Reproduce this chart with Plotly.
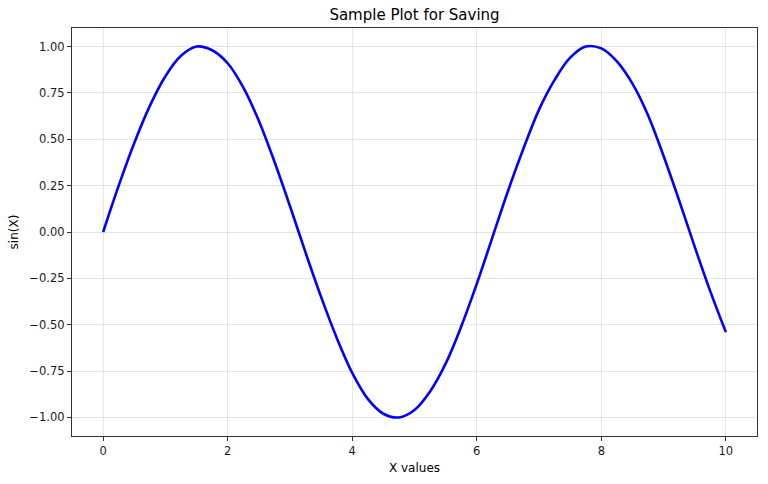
import plotly.graph_objects as go

x_values = [i * 0.25 for i in range(41)]
sin_values = [0.00, 0.25, 0.48, 0.68, 0.84, 0.95, 1.00, 0.98, 0.91, 0.78,
              0.60, 0.38, 0.14, -0.11, -0.35, -0.57, -0.76, -0.90, -0.98, -1.00,
              -0.96, -0.86, -0.71, -0.51, -0.28, -0.03, 0.22, 0.45, 0.66, 0.82,
              0.94, 1.00, 0.99, 0.92, 0.80, 0.63, 0.41, 0.17, -0.08, -0.32, -0.54]

x_ticks = [0, 2, 4, 6, 8, 10]
y_ticks = [1.0, 0.75, 0.5, 0.25, 0.0, -0.25, -0.5, -0.75, -1.0]
y_tick_labels = ["1.00", "0.75", "0.50", "0.25", "0.00", "\u22120.25", "\u22120.50", "\u22120.75", "\u22121.00"]

fig = go.Figure()
fig.add_trace(go.Scatter(x=x_values, y=sin_values, mode="lines",
                         line=dict(color="#0000ff", width=2.6, shape="spline")))

font = dict(family="DejaVu Sans", size=12, color="#000000")
axis_common = dict(showline=True, linecolor="#333333", linewidth=1.2, mirror=True,
                   ticks="outside", ticklen=4, tickcolor="#333333", automargin=False,
                   showgrid=True, gridcolor="rgba(0,0,0,0.1)", gridwidth=1,
                   zeroline=False, tickfont=dict(family="DejaVu Sans", size=11.5, color="#1a1a1a"))

fig.update_layout(
    width=768, height=484,
    paper_bgcolor="white", plot_bgcolor="white",
    margin=dict(l=72, r=11, t=28, b=48),
    showlegend=False,
    title=dict(text="Sample Plot for Saving", xref="paper", x=0.5, xanchor="center",
               y=0.969, yanchor="middle",
               font=dict(family="DejaVu Sans", size=15, color="#000000")),
    xaxis=dict(range=[-0.5, 10.5], tickvals=x_ticks, ticktext=[str(t) for t in x_ticks],
               title=dict(text="X values", font=font, standoff=6), **axis_common),
    yaxis=dict(range=[-1.1, 1.1], tickvals=y_ticks, ticktext=y_tick_labels,
               title=dict(text="sin(X)", font=font, standoff=8), **axis_common),
)

fig.write_html("out.html", config={"displayModeBar": False},
               post_script="document.body.style.margin='0';document.body.style.overflow='hidden';")
